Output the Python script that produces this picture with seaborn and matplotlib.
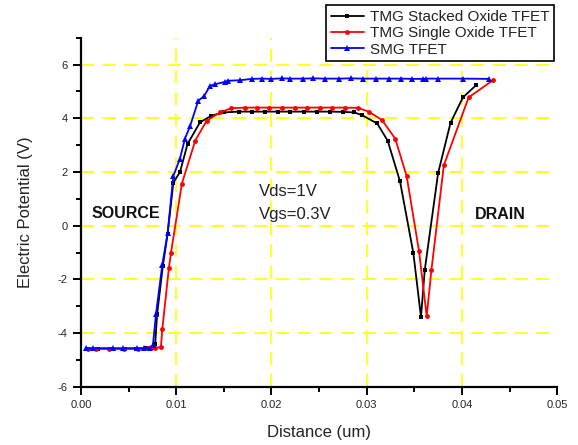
import matplotlib
matplotlib.use("Agg")
import matplotlib.pyplot as plt
import seaborn as sns
from matplotlib.ticker import MultipleLocator

# ---------------- data ----------------
stacked_x = [0.0007, 0.0018, 0.0033, 0.0046, 0.0058, 0.0068, 0.0075, 0.0078,
             0.0080, 0.0086, 0.0091, 0.0097, 0.0104, 0.0112, 0.0125, 0.0137,
             0.0150, 0.0166, 0.0180, 0.0193, 0.0207, 0.0220, 0.0234, 0.0248,
             0.0261, 0.0275, 0.0287, 0.0295, 0.0311, 0.0322, 0.0335, 0.0349,
             0.0357, 0.0361, 0.0375, 0.0388, 0.0401, 0.0415]
stacked_y = [-4.58, -4.58, -4.58, -4.58, -4.58, -4.57, -4.55, -4.40,
             -3.30, -1.50, -0.30, 1.60, 2.00, 3.05, 3.85, 4.10,
             4.22, 4.25, 4.25, 4.25, 4.25, 4.25, 4.25, 4.25,
             4.25, 4.24, 4.22, 4.12, 3.81, 3.17, 1.65, -1.02,
             -3.40, -1.64, 1.96, 3.83, 4.78, 5.24]

single_x = [0.0007, 0.0016, 0.0030, 0.0045, 0.0060, 0.0070, 0.0078, 0.0084,
            0.00854, 0.00924, 0.00945, 0.0106, 0.0120, 0.0132, 0.0146, 0.0158,
            0.01723, 0.01845, 0.01978, 0.02108, 0.02248, 0.02377, 0.0251,
            0.0264, 0.02773, 0.02913, 0.0302, 0.0316, 0.0330, 0.0342, 0.0355,
            0.0363, 0.0368, 0.0381, 0.0407, 0.0433]
single_y = [-4.58, -4.58, -4.58, -4.58, -4.58, -4.57, -4.56, -4.52,
            -3.86, -1.56, -1.02, 1.57, 3.17, 3.91, 4.22, 4.38,
            4.40, 4.40, 4.40, 4.40, 4.40, 4.40, 4.40,
            4.40, 4.40, 4.39, 4.25, 3.94, 3.24, 1.84, -0.96,
            -3.37, -1.64, 2.25, 4.78, 5.43]

smg_x = [0.00053, 0.00126, 0.00336, 0.00441, 0.00588, 0.00662, 0.00725, 0.00756,
         0.00788, 0.00854, 0.00911, 0.00970, 0.0104, 0.01092, 0.01145, 0.01232,
         0.01292, 0.01355, 0.01408, 0.01513, 0.01547, 0.0167, 0.01793,
         0.0190, 0.0200, 0.0211, 0.0220, 0.0233, 0.0244, 0.0256, 0.0271,
         0.0284, 0.0296, 0.0310, 0.0323, 0.0336, 0.0348, 0.0359, 0.0362,
         0.0375, 0.0401, 0.0428]
smg_y = [-4.57, -4.57, -4.57, -4.57, -4.57, -4.57, -4.55, -4.45,
         -3.30, -1.46, -0.26, 1.85, 2.50, 3.24, 3.70, 4.66,
         4.82, 5.21, 5.27, 5.36, 5.40, 5.42, 5.47,
         5.48, 5.47, 5.49, 5.48, 5.48, 5.49, 5.48, 5.48,
         5.49, 5.48, 5.48, 5.48, 5.48, 5.47, 5.47, 5.48,
         5.48, 5.48, 5.47]

labels = ["TMG Stacked Oxide TFET", "TMG Single Oxide TFET", "SMG TFET"]

# ---------------- figure ----------------
sns.set_theme(style="white")
plt.rcParams['font.family'] = ['Liberation Sans', 'DejaVu Sans']

fig = plt.figure(figsize=(5.78, 4.45), dpi=100)
ax = fig.add_axes([0.140, 0.131, 0.824, 0.784])

sns.lineplot(x=stacked_x, y=stacked_y, ax=ax, color="black", marker="s",
             markersize=3.3, markeredgewidth=0, linewidth=1.3, sort=False,
             label=labels[0])
sns.lineplot(x=single_x, y=single_y, ax=ax, color="red", marker="o",
             markersize=3.5, markeredgewidth=0, linewidth=1.3, sort=False,
             label=labels[1])
sns.lineplot(x=smg_x, y=smg_y, ax=ax, color="blue", marker="^",
             markersize=3.8, markeredgewidth=0, linewidth=1.3, sort=False,
             label=labels[2])

ax.set_xlim(0, 0.05)
ax.set_ylim(-6, 7)
ax.xaxis.set_minor_locator(MultipleLocator(0.005))
ax.yaxis.set_minor_locator(MultipleLocator(1))
ax.set_xticks([0, 0.01, 0.02, 0.03, 0.04, 0.05])
ax.set_xticklabels(["0.00", "0.01", "0.02", "0.03", "0.04", "0.05"])
ax.set_yticks([-6, -4, -2, 0, 2, 4, 6])
ax.set_yticklabels(["-6", "-4", "-2", "0", "2", "4", "6"])

# grid: yellow dashed, only interior lines
for gx in [0.01, 0.02, 0.03, 0.04]:
    ax.axvline(gx, color="#ffff00", linewidth=1.2, dashes=(8, 5), zorder=0)
for gy in [-4, -2, 0, 2, 4, 6]:
    ax.axhline(gy, color="#ffff00", linewidth=1.2, dashes=(8, 5), zorder=0)

for s in ["top", "right"]:
    ax.spines[s].set_visible(False)
for s in ["left", "bottom"]:
    ax.spines[s].set_color("black")
    ax.spines[s].set_linewidth(1.6)

ax.tick_params(axis="both", which="major", direction="out", length=6,
               width=1.4, color="black", labelsize=8, labelcolor="#222233",
               left=True, bottom=True, pad=3.5)
ax.tick_params(axis="both", which="minor", direction="out", length=3.5,
               width=1.4, color="black", left=True, bottom=True)

ax.set_xlabel("Distance (um)", fontsize=12, color="#222222", labelpad=11)
ax.set_ylabel("Electric Potential (V)", fontsize=12, color="#222222", labelpad=18)

ax.text(0.0011, 0.45, "SOURCE", fontsize=11.5, fontweight="bold",
        color="#111111", va="center", ha="left")
ax.text(0.0440, 0.4, "DRAIN", fontsize=11.5, fontweight="bold",
        color="#111111", va="center", ha="center")
ax.text(0.0187, 1.28, "Vds=1V", fontsize=12, color="#222222",
        va="center", ha="left")
ax.text(0.0187, 0.43, "Vgs=0.3V", fontsize=12, color="#222222",
        va="center", ha="left")

leg = ax.legend(loc="upper right", bbox_to_anchor=(0.994, 1.093),
                fontsize=11, frameon=True, fancybox=False, framealpha=1,
                edgecolor="black", handlelength=2.2, handletextpad=0.4,
                labelspacing=0.15, borderpad=0.3, borderaxespad=0)
leg.get_frame().set_linewidth(1.2)
for t in leg.get_texts():
    t.set_color("#222222")

fig.savefig("out.png", dpi=100)
